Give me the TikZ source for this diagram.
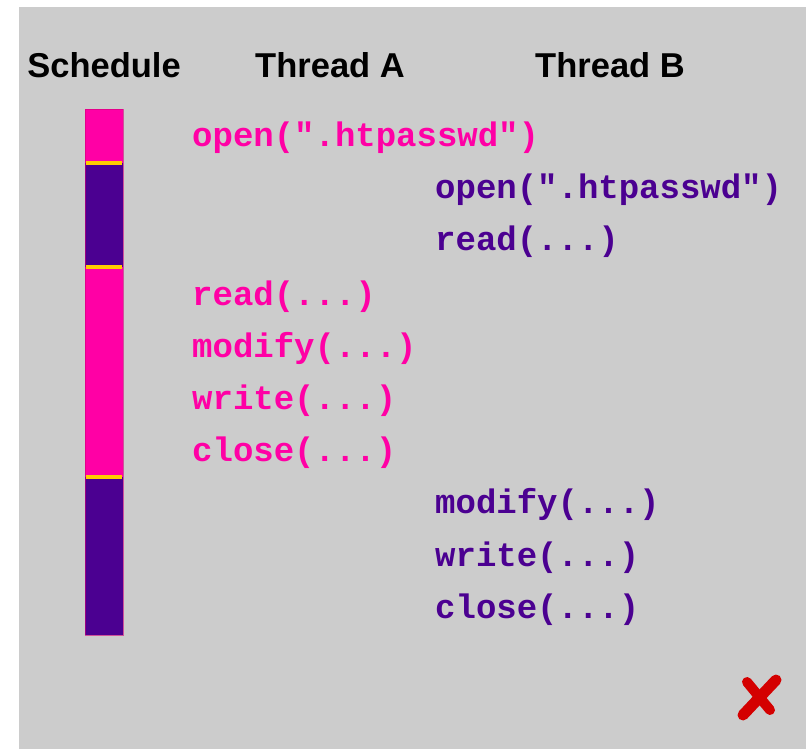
\documentclass[tikz,border=0pt]{standalone}
\usepackage{fontspec}
\setmainfont{Liberation Sans}
\newfontfamily\codefont{Liberation Mono}
\definecolor{panelgray}{RGB}{204,204,204}
\definecolor{pinkA}{RGB}{255,0,165}
\definecolor{purpleB}{RGB}{75,0,145}
\definecolor{sepyellow}{RGB}{255,205,0}
\definecolor{xred}{RGB}{212,0,0}
\begin{document}
\begin{tikzpicture}[x=1pt,y=-1pt,
  header/.style={font=\fontsize{34.5}{34.5}\selectfont\bfseries, anchor=base, inner sep=0pt, text=black},
  codeA/.style={font=\fontsize{34}{34}\codefont\bfseries, anchor=base west, inner sep=0pt, text=pinkA},
  codeB/.style={font=\fontsize{34}{34}\codefont\bfseries, anchor=base west, inner sep=0pt, text=purpleB},
  sep/.style={draw=sepyellow, line width=3.5pt},
  xstroke/.style={draw=xred, line width=11pt, line cap=round}]
\useasboundingbox (0,0) rectangle (806,749);
\fill[white] (0,0) rectangle (806,749);
\fill[panelgray] (19,7) rectangle (806,749);
% headers
\node[header] (hs) at (104,78) {Schedule};
\node[header] (ha) at (330,78) {Thread A};
\node[header] (hb) at (610,78) {Thread B};
% schedule bar
\fill[pinkA] (85,109) rectangle (123,163);
\fill[purpleB] (85,163) rectangle (123,267);
\fill[pinkA] (85,267) rectangle (123,477);
\fill[purpleB] (85,477) rectangle (123,635);
\draw[draw=purple!70!magenta, line width=0.8pt, opacity=0.6] (85,109) rectangle (123,635);
\draw[sep] (86,163) -- (122,163);
\draw[sep] (86,267) -- (122,267);
\draw[sep] (86,477) -- (122,477);
% thread A
\node[codeA] (a1) at (192,146.5) {open(".htpasswd")};
\node[codeA] (a2) at (192,305) {read(...)};
\node[codeA] (a3) at (192,357.3) {modify(...)};
\node[codeA] (a4) at (192,409.5) {write(...)};
\node[codeA] (a5) at (192,461.7) {close(...)};
% thread B
\node[codeB] (b1) at (435,198.7) {open(".htpasswd")};
\node[codeB] (b2) at (435,250.9) {read(...)};
\node[codeB] (b3) at (435,513.9) {modify(...)};
\node[codeB] (b4) at (435,566.1) {write(...)};
\node[codeB] (b5) at (435,618.3) {close(...)};
% red cross
\draw[xstroke] (743,715) -- (776,680);
\draw[xstroke, line width=10pt] (747,682) -- (770,710);
\end{tikzpicture}
\end{document}
